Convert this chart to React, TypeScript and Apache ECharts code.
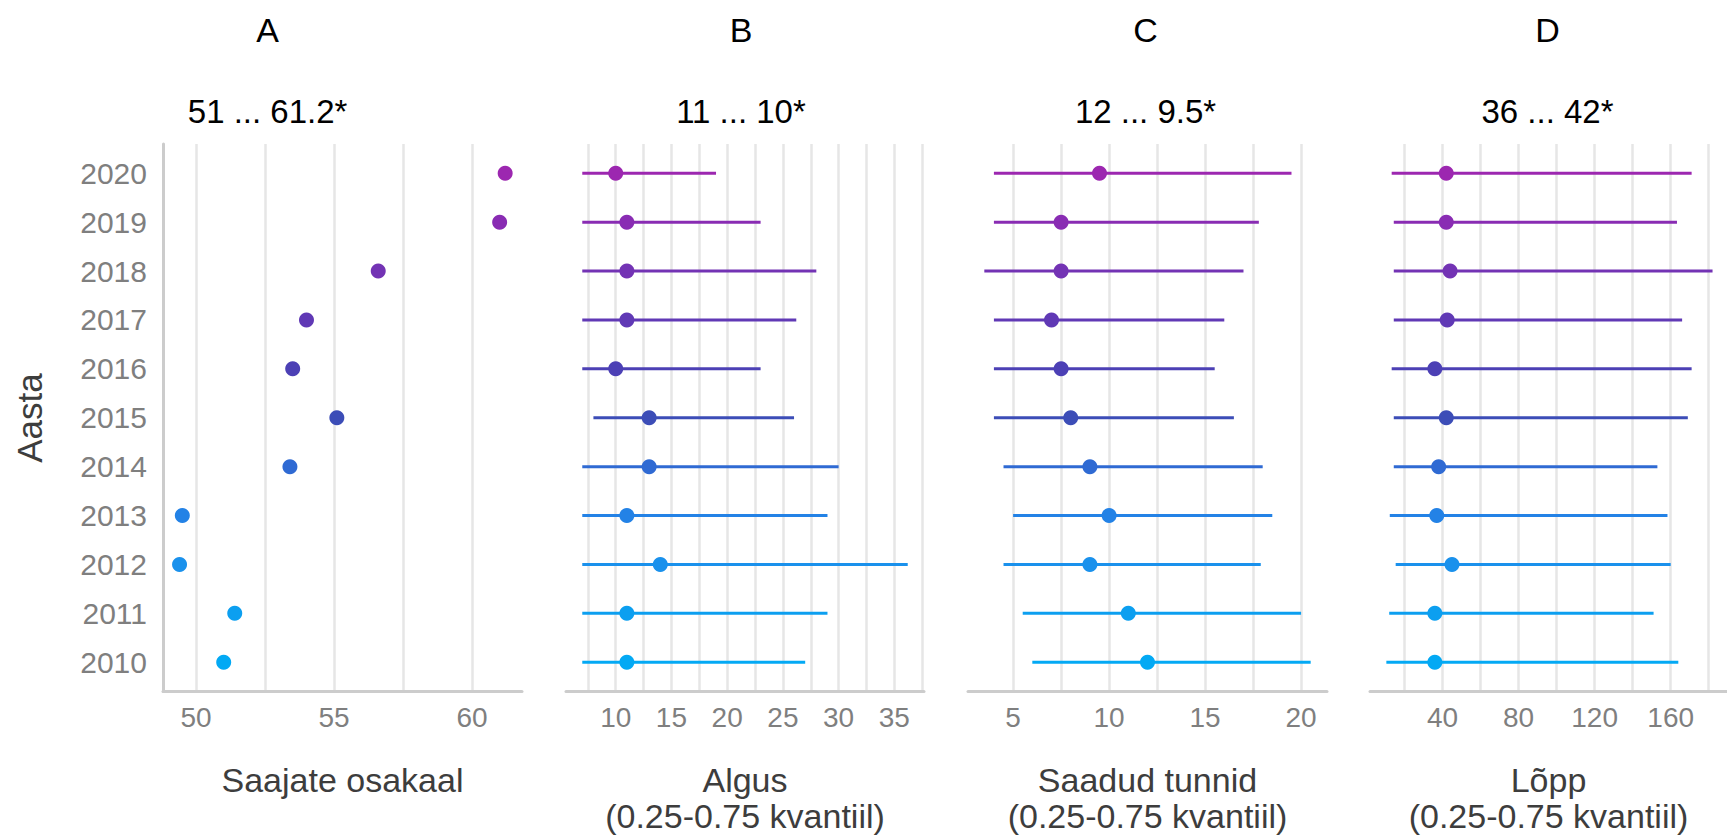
import React, { useEffect, useRef } from 'react';
import * as echarts from 'echarts';

// ---------- data ----------
const years = [2010, 2011, 2012, 2013, 2014, 2015, 2016, 2017, 2018, 2019, 2020];

// Panel A: Saajate osakaal
const shareValues = [51.0, 51.4, 49.4, 49.5, 53.4, 55.1, 53.5, 54.0, 56.6, 61.0, 61.2];

// Panel B: Algus (median, 0.25 and 0.75 quantile)
const startLow = [7, 7, 7, 7, 7, 8, 7, 7, 7, 7, 7];
const startMedian = [11, 11, 14, 11, 13, 13, 10, 11, 11, 11, 10];
const startHigh = [27, 29, 36.2, 29, 30, 26, 23, 26.2, 28, 23, 19];

// Panel C: Saadud tunnid
const hoursLow = [6, 5.5, 4.5, 5, 4.5, 4, 4, 4, 3.5, 4, 4];
const hoursMedian = [12, 11, 9, 10, 9, 8, 7.5, 7, 7.5, 7.5, 9.5];
const hoursHigh = [20.5, 20, 17.9, 18.5, 18, 16.5, 15.5, 16, 17, 17.8, 19.5];

// Panel D: Lõpp
const endLow = [10.5, 12, 15.4, 12.3, 14.4, 14.4, 13.3, 14.4, 14.4, 14.4, 13.3];
const endMedian = [36, 36, 45, 37, 38, 42, 36, 42.5, 44, 42, 42];
const endHigh = [164, 151, 160, 158.3, 153, 169, 171, 166, 182, 163.3, 171];

// texts
const panelTitles = ['A', 'B', 'C', 'D'];
const panelSubtitles = ['51 ... 61.2*', '11 ... 10*', '12 ... 9.5*', '36 ... 42*'];
const axisNames = [
  'Saajate osakaal',
  'Algus\n(0.25-0.75 kvantiil)',
  'Saadud tunnid\n(0.25-0.75 kvantiil)',
  'Lõpp\n(0.25-0.75 kvantiil)',
];
const yAxisName = 'Aasta';

// tick values
const gridTicksA = [50, 52.5, 55, 57.5, 60];
const labelTicksA = [50, 55, 60];
const gridTicksB = [7.5, 10, 12.5, 15, 17.5, 20, 22.5, 25, 27.5, 30, 32.5, 35, 37.5];
const labelTicksB = [10, 15, 20, 25, 30, 35];
const gridTicksC = [5, 7.5, 10, 12.5, 15, 17.5, 20];
const labelTicksC = [5, 10, 15, 20];
const gridTicksD = [20, 40, 60, 80, 100, 120, 140, 160, 180];
const labelTicksD = [40, 80, 120, 160];

// ---------- styles / layout ----------
const yearColors = [
  '#03A9F4', '#0C9FF0', '#1A91EC', '#2382E6', '#2F6AD3', '#3C4DB7',
  '#4C40B5', '#6039B5', '#7333B4', '#892CB3', '#9C27B0',
];
const FONT = "'Liberation Sans', Arial, sans-serif";
const GRID_TOP = 144;
const GRID_HEIGHT = 547.5;
const panelLeft = [163, 566, 968, 1370];
const panelWidth = [359, 358, 359, 357];
const panelRanges: [number, number][] = [
  [48.8, 61.81],
  [5.54, 37.66],
  [2.65, 21.35],
  [1.9, 189.6],
];
const titleX = [267.6, 741, 1145.5, 1547.5];

export default function App() {
  const ref = useRef<HTMLDivElement>(null);

  useEffect(() => {
    document.body.style.margin = '0';
    if (!ref.current) return;
    const chart = echarts.init(ref.current, undefined, { renderer: 'svg' });

    const gridTicks = [gridTicksA, gridTicksB, gridTicksC, gridTicksD];
    const labelTicks = [labelTicksA, labelTicksB, labelTicksC, labelTicksD];

    const grids = panelLeft.map((l, i) => ({
      left: l,
      top: GRID_TOP,
      width: panelWidth[i],
      height: GRID_HEIGHT,
      containLabel: false,
      outerBoundsMode: 'none',
    }));

    const xAxes = panelLeft.map((_, i) => ({
      type: 'value',
      gridIndex: i,
      min: panelRanges[i][0],
      max: panelRanges[i][1],
      name: axisNames[i],
      nameLocation: 'middle',
      nameGap: 70,
      nameTextStyle: {
        fontSize: 34,
        lineHeight: 36,
        color: '#3d3d3d',
        fontFamily: FONT,
        align: 'center',
      },
      axisLine: { show: true, lineStyle: { color: '#cccccc', width: 3 } },
      axisTick: { show: false, customValues: gridTicks[i] },
      axisLabel: {
        customValues: labelTicks[i],
        formatter: (v: number) => String(v),
        fontSize: 28,
        color: '#7f7f7f',
        fontFamily: FONT,
        margin: 12,
      },
      splitLine: { show: true, lineStyle: { color: '#e6e6e6', width: 2.5 } },
      minorSplitLine: { show: false },
    }));

    const yAxes = panelLeft.map((_, i) => ({
      type: 'value',
      gridIndex: i,
      min: 2009.4,
      max: 2020.6,
      show: i === 0,
      axisLine: { show: i === 0, lineStyle: { color: '#cccccc', width: 3 } },
      axisTick: { show: false, customValues: years },
      axisLabel: {
        show: i === 0,
        customValues: years,
        formatter: (v: number) => String(v),
        fontSize: 30,
        color: '#7f7f7f',
        fontFamily: FONT,
        margin: 16,
      },
      splitLine: { show: false },
    }));

    const rangeSeries = (idx: number, low: number[], high: number[]) => ({
      type: 'custom',
      xAxisIndex: idx,
      yAxisIndex: idx,
      encode: { x: [0, 2], y: 1 },
      data: years.map((y, i) => [low[i], y, high[i]]),
      renderItem: (params: any, api: any) => {
        const p1 = api.coord([api.value(0), api.value(1)]);
        const p2 = api.coord([api.value(2), api.value(1)]);
        return {
          type: 'line',
          shape: { x1: p1[0], y1: p1[1], x2: p2[0], y2: p2[1] },
          style: { stroke: yearColors[params.dataIndex], lineWidth: 3 },
        };
      },
      z: 3,
    });

    const dotSeries = (idx: number, values: number[]) => ({
      type: 'scatter',
      xAxisIndex: idx,
      yAxisIndex: idx,
      symbol: 'circle',
      symbolSize: 15,
      data: years.map((y, i) => ({
        value: [values[i], y],
        itemStyle: { color: yearColors[i], opacity: 1 },
      })),
      z: 4,
    });

    const graphics: any[] = [];
    panelTitles.forEach((t, i) => {
      graphics.push({
        type: 'text',
        x: titleX[i],
        y: 30,
        style: {
          text: t,
          fontSize: 34,
          fontFamily: FONT,
          fill: '#000000',
          align: 'center',
          verticalAlign: 'middle',
        },
      });
      graphics.push({
        type: 'text',
        x: titleX[i],
        y: 111,
        style: {
          text: panelSubtitles[i],
          fontSize: 33,
          fontFamily: FONT,
          fill: '#000000',
          align: 'center',
          verticalAlign: 'middle',
        },
      });
    });
    graphics.push({
      type: 'text',
      x: 29,
      y: 418,
      rotation: Math.PI / 2,
      style: {
        text: yAxisName,
        fontSize: 35,
        fontFamily: FONT,
        fill: '#3d3d3d',
        align: 'center',
        verticalAlign: 'middle',
      },
    });

    chart.setOption({
      animation: false,
      backgroundColor: '#ffffff',
      grid: grids,
      xAxis: xAxes,
      yAxis: yAxes,
      graphic: graphics,
      series: [
        dotSeries(0, shareValues),
        rangeSeries(1, startLow, startHigh),
        dotSeries(1, startMedian),
        rangeSeries(2, hoursLow, hoursHigh),
        dotSeries(2, hoursMedian),
        rangeSeries(3, endLow, endHigh),
        dotSeries(3, endMedian),
      ],
    } as any);

    return () => {
      chart.dispose();
    };
  }, []);

  return <div ref={ref} style={{ width: '1727px', height: '837px' }} />;
}
